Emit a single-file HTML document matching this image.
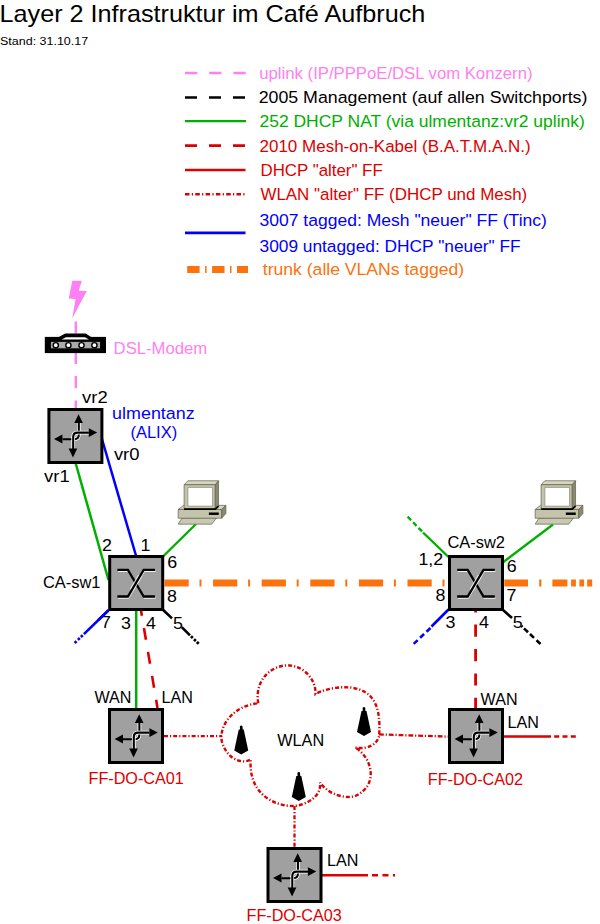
<!DOCTYPE html>
<html><head><meta charset="utf-8"><style>
html,body{margin:0;padding:0;background:#fff;width:600px;height:924px;overflow:hidden}
svg{display:block;font-family:"Liberation Sans", sans-serif}
</style></head><body>
<svg width="600" height="924" viewBox="0 0 600 924">
<rect width="600" height="924" fill="#fff"/>
<line x1="185" y1="73" x2="250" y2="73" stroke="#ff80f2" stroke-width="2.5" stroke-dasharray="12.3 11.9"/>
<line x1="185" y1="97.5" x2="250" y2="97.5" stroke="#000" stroke-width="2.6" stroke-dasharray="12 12"/>
<line x1="185" y1="121.1" x2="246" y2="121.1" stroke="#00b000" stroke-width="2.4"/>
<line x1="185" y1="145.6" x2="250" y2="145.6" stroke="#dd0000" stroke-width="2.6" stroke-dasharray="12 12"/>
<line x1="185" y1="170" x2="245.5" y2="170" stroke="#dd0000" stroke-width="2.6"/>
<line x1="185" y1="194.3" x2="245.5" y2="194.3" stroke="#dd0000" stroke-width="2.6" stroke-dasharray="4.5 2.3 1.2 2.3"/>
<line x1="185" y1="232.8" x2="245.5" y2="232.8" stroke="#0000ff" stroke-width="2.7"/>
<line x1="187.2" y1="269.5" x2="248" y2="269.5" stroke="#fc720c" stroke-width="7.2" stroke-dasharray="12.4 5.5 1.5 5.5"/>
<line x1="75.8" y1="321.5" x2="75.8" y2="333.5" stroke="#ff80f2" stroke-width="2.4"/>
<line x1="75.8" y1="353" x2="75.8" y2="408" stroke="#ff80f2" stroke-width="2.4" stroke-dasharray="12.2 12.2" stroke-dashoffset="1.3"/>
<line x1="75.6" y1="463" x2="108.5" y2="580" stroke="#00b000" stroke-width="2.5"/>
<line x1="96.4" y1="420" x2="136.1" y2="556" stroke="#0000ff" stroke-width="2.5"/>
<line x1="163" y1="556.5" x2="196" y2="524" stroke="#00b000" stroke-width="2.4"/>
<line x1="164.5" y1="583" x2="448" y2="583" stroke="#fc720c" stroke-width="7" stroke-dasharray="24.2 10.8 2 11.6"/>
<line x1="504.3" y1="583" x2="600" y2="583" stroke="#fc720c" stroke-width="7" stroke-dasharray="23.7 11.2 2.2 11 15 3.7 4.8 3.5 4.7 3.1 5 300"/>
<line x1="108.5" y1="610.2" x2="83.9" y2="634.1" stroke="#0000ff" stroke-width="2.6"/>
<line x1="83.9" y1="634.1" x2="74" y2="643.7" stroke="#0000ff" stroke-width="2.7" stroke-dasharray="0 1.6 2.6 1.5 2.6 2 2.6 100"/>
<line x1="163.2" y1="610" x2="172" y2="618.35" stroke="#000" stroke-width="2.6"/>
<line x1="181.75" y1="627.1" x2="190" y2="635.4" stroke="#000" stroke-width="2.6"/>
<line x1="190" y1="635.4" x2="199.5" y2="644.5" stroke="#000" stroke-width="2.7" stroke-dasharray="0 1.3 2.6 1.6 2.6 1.4 2.6 100"/>
<line x1="136.2" y1="610" x2="136.2" y2="708" stroke="#00b000" stroke-width="2.5"/>
<line x1="140.9" y1="610" x2="157.5" y2="708" stroke="#dd0000" stroke-width="2.6" stroke-dasharray="12 12.3" stroke-dashoffset="6.1"/>
<line x1="164" y1="736.2" x2="222" y2="736.2" stroke="#dd0000" stroke-width="2.3" stroke-dasharray="4 2 1.2 2"/>
<line x1="379" y1="734.4" x2="448" y2="736.6" stroke="#dd0000" stroke-width="2.3" stroke-dasharray="4.8 1.9 1.2 1.9"/>
<line x1="503" y1="736.5" x2="551" y2="736.5" stroke="#dd0000" stroke-width="2.6"/>
<line x1="554.2" y1="736.5" x2="577" y2="736.5" stroke="#dd0000" stroke-width="2.6" stroke-dasharray="5 3.3"/>
<line x1="475.6" y1="609.5" x2="475.6" y2="708" stroke="#dd0000" stroke-width="2.8" stroke-dasharray="12.2 12.2" stroke-dashoffset="9.3"/>
<line x1="294.5" y1="806" x2="294.5" y2="848" stroke="#dd0000" stroke-width="2.3" stroke-dasharray="4 2 1.2 2"/>
<line x1="321" y1="875.3" x2="368" y2="875.3" stroke="#dd0000" stroke-width="2.6"/>
<line x1="372" y1="875.3" x2="395" y2="875.3" stroke="#dd0000" stroke-width="2.6" stroke-dasharray="6 4.5"/>
<line x1="448.5" y1="557" x2="423" y2="532.5" stroke="#00b000" stroke-width="2.4"/>
<line x1="422" y1="531.4" x2="405.5" y2="514.5" stroke="#00b000" stroke-width="2.4" stroke-dasharray="5 2.8"/>
<line x1="503.5" y1="562" x2="553" y2="524.5" stroke="#00b000" stroke-width="2.4"/>
<line x1="448.5" y1="609.5" x2="431.5" y2="626.5" stroke="#0000ff" stroke-width="2.6"/>
<line x1="430.5" y1="628" x2="413" y2="644.5" stroke="#0000ff" stroke-width="2.6" stroke-dasharray="5.5 3.3"/>
<line x1="502.5" y1="609.5" x2="512" y2="618" stroke="#000" stroke-width="2.6"/>
<line x1="521.5" y1="626" x2="541" y2="644.5" stroke="#000" stroke-width="2.6" stroke-dasharray="1.4 2 5.6 2.7 5.5 3.5 5.5 100"/>
<path d="M258.3,703.3 C254,680 272,664 290,665.5 C305,667 316,680 315.5,694 C328,687 358,682 371,697 C379,706 380,720 379.2,735 C378,744 368,750 355,747.5 C372,757 380,786 354,796.5 C338,799 325,790 320,782.5 C322,800 300,806 293.3,806 C270,806 248,790 250.8,759.2 C245,764 228,762 222,742 C218,725 235,705 258.3,703.3 Z" fill="none" stroke="#dd0000" stroke-width="2.4" stroke-dasharray="4 2 1.2 2"/>
<path d="M238.75,729.5 L243.75,729.5 L248.25,750.5 L241.25,754.5 L234.25,750.5 Z" fill="#000"/>
<path d="M240.05,730.0 L239.85,726.3 Q241.25,724.7 242.45,726.1 L242.75,730.0 Z" fill="#000"/>
<path d="M361.5,711 L366.5,711 L371.0,732 L364.0,736 L357.0,732 Z" fill="#000"/>
<path d="M362.8,711.5 L362.6,707.8 Q364.0,706.2 365.2,707.6 L365.5,711.5 Z" fill="#000"/>
<path d="M296.3,776 L301.3,776 L305.8,797 L298.8,801 L291.8,797 Z" fill="#000"/>
<path d="M297.6,776.5 L297.40000000000003,772.8 Q298.8,771.2 300.0,772.6 L300.3,776.5 Z" fill="#000"/>
<polygon points="72.25,280.8 81.9,280.8 78.7,290.75 86.8,291 72.25,318.2 75.6,298.9 68.75,298.6" fill="#ff80f2"/>
<g>
<rect x="44.8" y="336.9" width="61.2" height="16.2" fill="#000"/>
<polygon points="57.9,337.5 65.2,333.5 85.7,333.5 91.9,337.5" fill="#000"/>
<polygon points="61.5,339.5 66,337.3 85,337.3 89,339.5" fill="#fff"/>
<rect x="50.5" y="341.4" width="49.9" height="7.4" fill="#aaa" stroke="#000" stroke-width="0.8"/>
<circle cx="55.8" cy="345.2" r="2.6" fill="#fff" stroke="#000" stroke-width="1.4"/>
<circle cx="68.4" cy="345.2" r="2.6" fill="#fff" stroke="#000" stroke-width="1.4"/>
<circle cx="81.5" cy="345.2" r="2.6" fill="#fff" stroke="#000" stroke-width="1.4"/>
<circle cx="94.4" cy="345.2" r="2.6" fill="#fff" stroke="#000" stroke-width="1.4"/>
</g>
<g transform="translate(47.4,408)">
<rect x="1.5" y="1.5" width="53" height="53" fill="#a0a0a0" stroke="#000" stroke-width="3"/>
<path d="M31.4,15 L31.4,26.8 Q31.4,31.2 27,31.2 L23.5,31.2" fill="none" stroke="#fff" stroke-width="3.7"/>
<path d="M31.4,14.5 L31.4,26.8 Q31.4,31.2 27,31.2 L15,31.2" fill="none" stroke="#000" stroke-width="2.1"/>
<path d="M41.5,24.6 L30.2,24.6 Q25.8,24.6 25.8,29 L25.8,41" fill="none" stroke="#fff" stroke-width="3.7"/>
<path d="M41.5,24.6 L30.2,24.6 Q25.8,24.6 25.8,29 L25.8,41" fill="none" stroke="#000" stroke-width="2.1"/>
<path d="M31.2,6.2 L35.5,15 L26.9,15 Z M49.8,24.6 L41.4,20.2 L41.4,29 Z M6.6,31 L15,26.5 L15,35.5 Z M25.6,49.4 L21.2,40.6 L29.8,40.6 Z" fill="#000"/>
</g>
<g transform="translate(108.2,555)">
<rect x="1.5" y="1.5" width="53" height="53" fill="#a0a0a0" stroke="#000" stroke-width="3"/>
<path d="M9.2,14.8 L19.7,14.8 L35.5,41.5 L46.8,41.5" fill="none" stroke="#fff" stroke-opacity="0.85" stroke-width="1.1" transform="translate(0.6,1.6)"/>
<path d="M9.2,41.5 L19.7,41.5 L35.5,14.8 L46.8,14.8" fill="none" stroke="#fff" stroke-opacity="0.85" stroke-width="1.1" transform="translate(0.6,1.6)"/>
<path d="M9.2,14.8 L19.7,14.8 L35.5,41.5 L46.8,41.5" fill="none" stroke="#000" stroke-width="2.3"/>
<path d="M23.5,35 L32,20.6" fill="none" stroke="#fff" stroke-opacity="0.85" stroke-width="4.2"/>
<path d="M9.2,41.5 L19.7,41.5 L35.5,14.8 L46.8,14.8" fill="none" stroke="#000" stroke-width="2.3"/>
</g>
<g transform="translate(448,555)">
<rect x="1.5" y="1.5" width="53" height="53" fill="#a0a0a0" stroke="#000" stroke-width="3"/>
<path d="M9.2,14.8 L19.7,14.8 L35.5,41.5 L46.8,41.5" fill="none" stroke="#fff" stroke-opacity="0.85" stroke-width="1.1" transform="translate(0.6,1.6)"/>
<path d="M9.2,41.5 L19.7,41.5 L35.5,14.8 L46.8,14.8" fill="none" stroke="#fff" stroke-opacity="0.85" stroke-width="1.1" transform="translate(0.6,1.6)"/>
<path d="M9.2,14.8 L19.7,14.8 L35.5,41.5 L46.8,41.5" fill="none" stroke="#000" stroke-width="2.3"/>
<path d="M23.5,35 L32,20.6" fill="none" stroke="#fff" stroke-opacity="0.85" stroke-width="4.2"/>
<path d="M9.2,41.5 L19.7,41.5 L35.5,14.8 L46.8,14.8" fill="none" stroke="#000" stroke-width="2.3"/>
</g>
<g transform="translate(108,708)">
<rect x="1.5" y="1.5" width="53" height="53" fill="#a0a0a0" stroke="#000" stroke-width="3"/>
<path d="M31.4,15 L31.4,26.8 Q31.4,31.2 27,31.2 L23.5,31.2" fill="none" stroke="#fff" stroke-width="3.7"/>
<path d="M31.4,14.5 L31.4,26.8 Q31.4,31.2 27,31.2 L15,31.2" fill="none" stroke="#000" stroke-width="2.1"/>
<path d="M41.5,24.6 L30.2,24.6 Q25.8,24.6 25.8,29 L25.8,41" fill="none" stroke="#fff" stroke-width="3.7"/>
<path d="M41.5,24.6 L30.2,24.6 Q25.8,24.6 25.8,29 L25.8,41" fill="none" stroke="#000" stroke-width="2.1"/>
<path d="M31.2,6.2 L35.5,15 L26.9,15 Z M49.8,24.6 L41.4,20.2 L41.4,29 Z M6.6,31 L15,26.5 L15,35.5 Z M25.6,49.4 L21.2,40.6 L29.8,40.6 Z" fill="#000"/>
</g>
<g transform="translate(448,708)">
<rect x="1.5" y="1.5" width="53" height="53" fill="#a0a0a0" stroke="#000" stroke-width="3"/>
<path d="M31.4,15 L31.4,26.8 Q31.4,31.2 27,31.2 L23.5,31.2" fill="none" stroke="#fff" stroke-width="3.7"/>
<path d="M31.4,14.5 L31.4,26.8 Q31.4,31.2 27,31.2 L15,31.2" fill="none" stroke="#000" stroke-width="2.1"/>
<path d="M41.5,24.6 L30.2,24.6 Q25.8,24.6 25.8,29 L25.8,41" fill="none" stroke="#fff" stroke-width="3.7"/>
<path d="M41.5,24.6 L30.2,24.6 Q25.8,24.6 25.8,29 L25.8,41" fill="none" stroke="#000" stroke-width="2.1"/>
<path d="M31.2,6.2 L35.5,15 L26.9,15 Z M49.8,24.6 L41.4,20.2 L41.4,29 Z M6.6,31 L15,26.5 L15,35.5 Z M25.6,49.4 L21.2,40.6 L29.8,40.6 Z" fill="#000"/>
</g>
<g transform="translate(266.5,847)">
<rect x="1.5" y="1.5" width="53" height="53" fill="#a0a0a0" stroke="#000" stroke-width="3"/>
<path d="M31.4,15 L31.4,26.8 Q31.4,31.2 27,31.2 L23.5,31.2" fill="none" stroke="#fff" stroke-width="3.7"/>
<path d="M31.4,14.5 L31.4,26.8 Q31.4,31.2 27,31.2 L15,31.2" fill="none" stroke="#000" stroke-width="2.1"/>
<path d="M41.5,24.6 L30.2,24.6 Q25.8,24.6 25.8,29 L25.8,41" fill="none" stroke="#fff" stroke-width="3.7"/>
<path d="M41.5,24.6 L30.2,24.6 Q25.8,24.6 25.8,29 L25.8,41" fill="none" stroke="#000" stroke-width="2.1"/>
<path d="M31.2,6.2 L35.5,15 L26.9,15 Z M49.8,24.6 L41.4,20.2 L41.4,29 Z M6.6,31 L15,26.5 L15,35.5 Z M25.6,49.4 L21.2,40.6 L29.8,40.6 Z" fill="#000"/>
</g>
<g transform="translate(170,472)" stroke="#5f5f4c" stroke-width="0.7" stroke-linejoin="round">
<polygon points="8.17,52.16 11.90,46.09 46.67,45.74 41.66,52.16" fill="#c9c9b3"/>
<polygon points="8.17,37.46 13.65,33.37 55.89,33.37 51.69,37.46" fill="#d6d6c0"/>
<polygon points="8.17,37.46 51.69,37.46 51.69,46.21 8.17,46.21" fill="#c4c4ac"/>
<polygon points="51.69,37.46 55.89,33.37 55.89,41.54 51.69,46.21" fill="#8a8a72"/>
<polygon points="38.86,40.49 48.77,40.49 48.77,42.94 38.86,42.94" fill="#000" stroke="none"/>
<polygon points="14.12,12.72 17.85,8.75 48.54,8.75 45.27,12.72" fill="#d6d6c0"/>
<polygon points="14.12,12.72 45.27,12.72 45.27,36.99 14.12,36.99" fill="#c4c4ac"/>
<polygon points="45.27,12.72 48.54,8.75 48.54,33.84 45.27,36.99" fill="#8a8a72"/>
<polygon points="17.85,15.40 42.59,15.40 42.59,34.19 17.85,34.19" fill="#fff" stroke="#9a9a88" stroke-width="0.9"/>
<polyline points="14.12,37.11 45.27,37.11 48.54,34.07" fill="none" stroke="#000" stroke-width="1.7"/>
</g>
<g transform="translate(527,472)" stroke="#5f5f4c" stroke-width="0.7" stroke-linejoin="round">
<polygon points="8.17,52.16 11.90,46.09 46.67,45.74 41.66,52.16" fill="#c9c9b3"/>
<polygon points="8.17,37.46 13.65,33.37 55.89,33.37 51.69,37.46" fill="#d6d6c0"/>
<polygon points="8.17,37.46 51.69,37.46 51.69,46.21 8.17,46.21" fill="#c4c4ac"/>
<polygon points="51.69,37.46 55.89,33.37 55.89,41.54 51.69,46.21" fill="#8a8a72"/>
<polygon points="38.86,40.49 48.77,40.49 48.77,42.94 38.86,42.94" fill="#000" stroke="none"/>
<polygon points="14.12,12.72 17.85,8.75 48.54,8.75 45.27,12.72" fill="#d6d6c0"/>
<polygon points="14.12,12.72 45.27,12.72 45.27,36.99 14.12,36.99" fill="#c4c4ac"/>
<polygon points="45.27,12.72 48.54,8.75 48.54,33.84 45.27,36.99" fill="#8a8a72"/>
<polygon points="17.85,15.40 42.59,15.40 42.59,34.19 17.85,34.19" fill="#fff" stroke="#9a9a88" stroke-width="0.9"/>
<polyline points="14.12,37.11 45.27,37.11 48.54,34.07" fill="none" stroke="#000" stroke-width="1.7"/>
</g>
<text x="-0.5" y="21.5" font-size="22.99" fill="#000" textLength="425.84" lengthAdjust="spacingAndGlyphs">Layer 2 Infrastruktur im Café Aufbruch</text>
<text x="0" y="44.8" font-size="11.49" fill="#000" textLength="88.19" lengthAdjust="spacingAndGlyphs">Stand: 31.10.17</text>
<text x="259.3" y="79" font-size="16.3" fill="#ff80f2" textLength="273.19" lengthAdjust="spacingAndGlyphs">uplink (IP/PPPoE/DSL vom Konzern)</text>
<text x="258.7" y="103.1" font-size="16.3" fill="#000" textLength="328.67" lengthAdjust="spacingAndGlyphs">2005 Management (auf allen Switchports)</text>
<text x="259.5" y="127.2" font-size="16.3" fill="#00b000" textLength="325.31" lengthAdjust="spacingAndGlyphs">252 DHCP NAT (via ulmentanz:vr2 uplink)</text>
<text x="259.5" y="151.6" font-size="16.3" fill="#dd0000" textLength="271.14" lengthAdjust="spacingAndGlyphs">2010 Mesh-on-Kabel (B.A.T.M.A.N.)</text>
<text x="260.5" y="175.9" font-size="16.3" fill="#dd0000" textLength="122.23" lengthAdjust="spacingAndGlyphs">DHCP "alter" FF</text>
<text x="260.4" y="200" font-size="16.3" fill="#dd0000" textLength="266.80" lengthAdjust="spacingAndGlyphs">WLAN "alter" FF (DHCP und Mesh)</text>
<text x="259.5" y="226" font-size="16.3" fill="#0000ff" textLength="287.39" lengthAdjust="spacingAndGlyphs">3007 tagged: Mesh "neuer" FF (Tinc)</text>
<text x="259.5" y="252" font-size="16.3" fill="#0000ff" textLength="261.17" lengthAdjust="spacingAndGlyphs">3009 untagged: DHCP "neuer" FF</text>
<text x="262.8" y="275" font-size="16.3" fill="#fc720c" textLength="201.31" lengthAdjust="spacingAndGlyphs">trunk (alle VLANs tagged)</text>
<text x="113.6" y="353.5" font-size="16.3" fill="#ff80f2" textLength="93.62" lengthAdjust="spacingAndGlyphs">DSL-Modem</text>
<text x="82.1" y="402.8" font-size="16.3" fill="#000" textLength="25.56" lengthAdjust="spacingAndGlyphs">vr2</text>
<text x="112.1" y="419" font-size="16.3" fill="#0000ff" textLength="82.62" lengthAdjust="spacingAndGlyphs">ulmentanz</text>
<text x="130.4" y="438.4" font-size="16.3" fill="#0000ff" textLength="46.81" lengthAdjust="spacingAndGlyphs">(ALIX)</text>
<text x="113.9" y="460.2" font-size="16.3" fill="#000" textLength="25.56" lengthAdjust="spacingAndGlyphs">vr0</text>
<text x="44.1" y="481.7" font-size="16.3" fill="#000" textLength="25.56" lengthAdjust="spacingAndGlyphs">vr1</text>
<text x="102.0" y="551.4" font-size="16.3" fill="#000" textLength="9.92" lengthAdjust="spacingAndGlyphs">2</text>
<text x="140.4" y="550.8" font-size="16.3" fill="#000" textLength="9.92" lengthAdjust="spacingAndGlyphs">1</text>
<text x="167.2" y="567.5" font-size="16.3" fill="#000" textLength="9.92" lengthAdjust="spacingAndGlyphs">6</text>
<text x="42.9" y="588.3" font-size="16.3" fill="#000" textLength="57.64" lengthAdjust="spacingAndGlyphs">CA-sw1</text>
<text x="167.0" y="601.8" font-size="16.3" fill="#000" textLength="9.92" lengthAdjust="spacingAndGlyphs">8</text>
<text x="101.1" y="628" font-size="16.3" fill="#000" textLength="9.92" lengthAdjust="spacingAndGlyphs">7</text>
<text x="120.9" y="629.3" font-size="16.3" fill="#000" textLength="9.92" lengthAdjust="spacingAndGlyphs">3</text>
<text x="146.0" y="629.3" font-size="16.3" fill="#000" textLength="9.92" lengthAdjust="spacingAndGlyphs">4</text>
<text x="173.1" y="628.8" font-size="16.3" fill="#000" textLength="9.92" lengthAdjust="spacingAndGlyphs">5</text>
<text x="94.5" y="703" font-size="16.3" fill="#000" textLength="36.91" lengthAdjust="spacingAndGlyphs">WAN</text>
<text x="161.5" y="703" font-size="16.3" fill="#000" textLength="31.39" lengthAdjust="spacingAndGlyphs">LAN</text>
<text x="88.5" y="783.6" font-size="16.3" fill="#dd0000" textLength="95.31" lengthAdjust="spacingAndGlyphs">FF-DO-CA01</text>
<text x="277.3" y="745.8" font-size="16.3" fill="#000" textLength="46.80" lengthAdjust="spacingAndGlyphs">WLAN</text>
<text x="447.4" y="548.3" font-size="16.3" fill="#000" textLength="57.64" lengthAdjust="spacingAndGlyphs">CA-sw2</text>
<text x="418.4" y="565" font-size="16.3" fill="#000" textLength="24.81" lengthAdjust="spacingAndGlyphs">1,2</text>
<text x="506.8" y="572.3" font-size="16.3" fill="#000" textLength="9.92" lengthAdjust="spacingAndGlyphs">6</text>
<text x="435.6" y="601" font-size="16.3" fill="#000" textLength="9.92" lengthAdjust="spacingAndGlyphs">8</text>
<text x="506.6" y="601" font-size="16.3" fill="#000" textLength="9.92" lengthAdjust="spacingAndGlyphs">7</text>
<text x="445.4" y="628.3" font-size="16.3" fill="#000" textLength="9.92" lengthAdjust="spacingAndGlyphs">3</text>
<text x="479.1" y="628.3" font-size="16.3" fill="#000" textLength="9.92" lengthAdjust="spacingAndGlyphs">4</text>
<text x="512.7" y="628" font-size="16.3" fill="#000" textLength="9.92" lengthAdjust="spacingAndGlyphs">5</text>
<text x="480.6" y="704.5" font-size="16.3" fill="#000" textLength="36.91" lengthAdjust="spacingAndGlyphs">WAN</text>
<text x="507.6" y="727.8" font-size="16.3" fill="#000" textLength="31.39" lengthAdjust="spacingAndGlyphs">LAN</text>
<text x="427.8" y="784.5" font-size="16.3" fill="#dd0000" textLength="95.31" lengthAdjust="spacingAndGlyphs">FF-DO-CA02</text>
<text x="327" y="865.9" font-size="16.3" fill="#000" textLength="31.39" lengthAdjust="spacingAndGlyphs">LAN</text>
<text x="246.5" y="920.6" font-size="16.3" fill="#dd0000" textLength="95.31" lengthAdjust="spacingAndGlyphs">FF-DO-CA03</text>
<line x1="108.5" y1="610.2" x2="98" y2="620.4" stroke="#0000ff" stroke-width="2.6"/>
</svg></body></html>
